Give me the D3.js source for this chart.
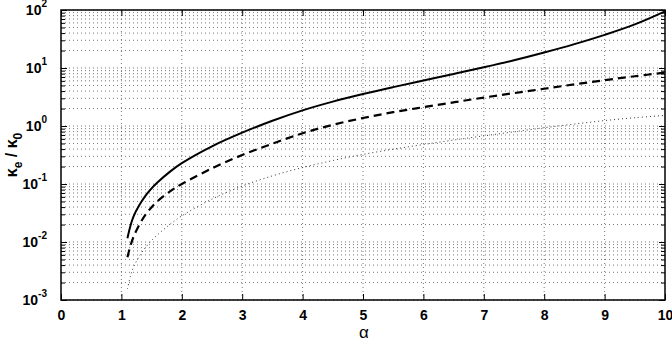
<!DOCTYPE html>
<html>
<head>
<meta charset="utf-8">
<script src="https://cdn.jsdelivr.net/npm/d3@7"></script>
<style>
  body { margin: 0; background: #fff; }
  text { font-family: "Liberation Sans", Arial, sans-serif; }
</style>
</head>
<body>
<div id="chart"></div>
<script>
// alpha values
const alpha = [1.1, 1.15, 1.2, 1.3, 1.4, 1.5, 1.6, 1.8, 2, 2.5, 3, 3.5, 4, 4.5, 5, 5.5, 6, 6.5, 7, 7.5, 8, 8.5, 9, 9.5, 10];
const solidVals = [0.0116, 0.0191, 0.0275, 0.0437, 0.0631, 0.0841, 0.107, 0.162, 0.229, 0.447, 0.767, 1.23, 1.86, 2.63, 3.55, 4.68, 6.10, 7.91, 10.3, 13.6, 18.5, 25.8, 37.3, 56.5, 94.8];
const dashedVals = [0.00544, 0.00863, 0.0122, 0.0202, 0.0296, 0.0399, 0.0508, 0.0741, 0.1, 0.186, 0.316, 0.495, 0.75, 1.047, 1.374, 1.73, 2.11, 2.56, 3.09, 3.69, 4.39, 5.22, 6.17, 7.21, 8.32];
const dottedVals = [0.00155, 0.00258, 0.00364, 0.00577, 0.00805, 0.0106, 0.0134, 0.02, 0.0282, 0.055, 0.0923, 0.138, 0.192, 0.254, 0.324, 0.398, 0.48, 0.572, 0.676, 0.794, 0.933, 1.08, 1.24, 1.39, 1.52];

const xTicks = [0, 1, 2, 3, 4, 5, 6, 7, 8, 9, 10];
const yExps = [-3, -2, -1, 0, 1, 2];

const width = 672, height = 344;
const m = { left: 61, right: 7, top: 10, bottom: 44 };

const svg = d3.select('#chart').append('svg')
    .attr('width', width)
    .attr('height', height);

const x = d3.scaleLinear().domain([0, 10]).range([m.left, width - m.right]);
const y = d3.scaleLog().domain([1e-3, 1e2]).range([height - m.bottom, m.top]);

// minor y positions
const yMinor = [];
yExps.slice(0, -1).forEach(e => {
    for (let k = 2; k <= 9; k++) yMinor.push(k * Math.pow(10, e));
});
const yAll = yExps.map(e => Math.pow(10, e)).concat(yMinor);

const grid = svg.append('g')
    .attr('stroke', '#555')
    .attr('stroke-width', 0.8)
    .attr('stroke-dasharray', '1,3');

// horizontal grid
grid.selectAll('line.h').data(yAll).join('line')
    .attr('x1', x(0)).attr('x2', x(10))
    .attr('y1', d => y(d)).attr('y2', d => y(d));

// vertical grid
grid.selectAll('line.v').data(xTicks.slice(1, -1)).join('line')
    .attr('x1', d => x(d)).attr('x2', d => x(d))
    .attr('y1', y(1e-3)).attr('y2', y(1e2));

// axes with inward ticks
svg.append('g')
    .attr('transform', `translate(0,${y(1e-3)})`)
    .call(d3.axisBottom(x).tickValues(xTicks).tickSize(-6).tickPadding(10).tickFormat(d3.format('d')))
    .call(g => g.select('.domain').remove())
    .call(g => g.selectAll('text').attr('font-size', 14).attr('font-weight', 'bold').attr('fill', '#000'));

svg.append('g')
    .attr('transform', `translate(0,${y(1e2)})`)
    .call(d3.axisTop(x).tickValues(xTicks).tickSize(-6).tickFormat(''))
    .call(g => g.select('.domain').remove());

const yAxisL = svg.append('g')
    .attr('transform', `translate(${x(0)},0)`)
    .call(d3.axisLeft(y).tickValues(yAll).tickSize(-6).tickFormat(''))
    .call(g => g.select('.domain').remove());
yAxisL.selectAll('.tick line').attr('x2', d => yMinor.includes(d) ? 4 : 6);

const yAxisR = svg.append('g')
    .attr('transform', `translate(${x(10)},0)`)
    .call(d3.axisRight(y).tickValues(yAll).tickSize(-6).tickFormat(''))
    .call(g => g.select('.domain').remove());
yAxisR.selectAll('.tick line').attr('x2', d => yMinor.includes(d) ? -4 : -6);

// y tick labels 10^n
const yl = svg.append('g').selectAll('text').data(yExps).join('text')
    .attr('x', x(0) - 14)
    .attr('y', d => y(Math.pow(10, d)) + 5)
    .attr('text-anchor', 'end')
    .attr('font-size', 14)
    .attr('font-weight', 'bold');
yl.append('tspan').text('10');
yl.append('tspan').attr('dy', -8).attr('font-size', 10).text(d => d);

// box
svg.append('rect')
    .attr('x', x(0)).attr('y', y(1e2))
    .attr('width', x(10) - x(0)).attr('height', y(1e-3) - y(1e2))
    .attr('fill', 'none').attr('stroke', '#000').attr('stroke-width', 1.5);

// curves
const line = vals => d3.line()
    .x((d, i) => x(alpha[i]))
    .y(d => y(d))
    .curve(d3.curveCatmullRom.alpha(0.5))(vals);

svg.append('path').attr('d', line(dottedVals))
    .attr('fill', 'none').attr('stroke', '#333').attr('stroke-width', 1).attr('stroke-dasharray', '1,3');
svg.append('path').attr('d', line(dashedVals))
    .attr('fill', 'none').attr('stroke', '#000').attr('stroke-width', 2.2).attr('stroke-dasharray', '8,5');
svg.append('path').attr('d', line(solidVals))
    .attr('fill', 'none').attr('stroke', '#000').attr('stroke-width', 2);

// axis labels
svg.append('text')
    .attr('x', (x(0) + x(10)) / 2 + 1)
    .attr('y', 338)
    .attr('text-anchor', 'middle')
    .attr('font-size', 17)
    .attr('font-family', '"DejaVu Serif", serif')
    .text('α');

const ylab = svg.append('text')
    .attr('transform', `translate(17,${(y(1e-3) + y(1e2)) / 2}) rotate(-90)`)
    .attr('text-anchor', 'middle')
    .attr('font-size', 16)
    .attr('font-weight', 'bold');
ylab.append('tspan').text('κ');
ylab.append('tspan').attr('dy', 5).attr('font-size', 12).text('e');
ylab.append('tspan').attr('dy', -5).text(' / κ');
ylab.append('tspan').attr('dy', 5).attr('font-size', 12).text('0');
</script>
</body>
</html>
